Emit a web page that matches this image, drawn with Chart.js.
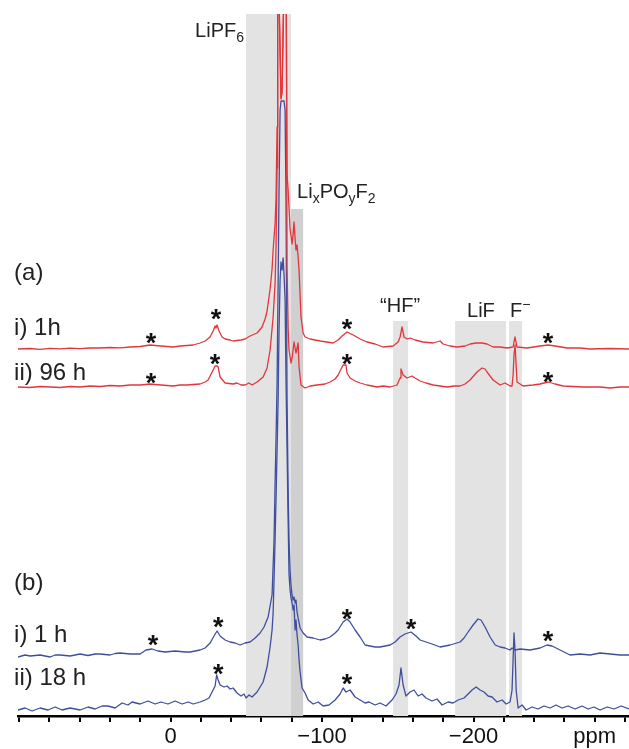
<!DOCTYPE html>
<html>
<head>
<meta charset="utf-8">
<script src="https://cdn.jsdelivr.net/npm/chart.js@4.4.0/dist/chart.umd.min.js"></script>
<style>
  html, body { margin: 0; padding: 0; background: #fff; }
  #wrap { width: 629px; height: 749px; position: relative; }
</style>
</head>
<body>
<div id="wrap"><canvas id="nmr"></canvas></div>
<script>
// 19F spectra: [shift (ppm), intensity above the trace's own baseline]
const spec_a_1h = [
  [100.7,0],[92.7,0.5],[86.1,-0.3],[79.5,0.6],[72.9,0.2],[66.3,0.8],[59.7,0.4],[53.1,1],[46.5,1],[39.9,1.5],
  [33.3,1.2],[26.7,2],[20.1,2.5],[13.5,4],[10.2,3.5],[6.3,3],[2.3,2.5],[-1.7,2],[-6.3,3],[-10.9,3.5],
  [-14.9,4],[-19.5,6],[-22.8,8],[-26.1,12],[-28.1,18],[-29.4,23],[-30.0,21],[-30.7,24],[-32.0,18],[-34.0,12],
  [-36.0,10],[-39.3,9],[-41.3,8],[-46.5,9],[-49.2,10],[-52.5,13],[-57.1,16],[-60.4,22],[-62.4,30],[-63.7,38],
  [-65.7,60],[-67.0,80],[-67.7,99],[-69.0,126],[-69.6,150],[-70.3,222],[-70.7,340],[-71.2,420],[-71.8,335],[-72.9,250],
  [-73.6,260],[-74.5,335],[-75.4,420],[-76.4,335],[-76.9,175],[-77.6,159],[-78.9,120],[-80.2,105],[-80.9,115],[-81.5,127],
  [-82.2,110],[-82.8,99],[-83.5,104],[-84.2,92],[-84.8,79],[-86.1,32],[-87.5,16],[-88.8,12],[-92.1,10],[-98.7,8],
  [-107.3,6],[-110.6,9],[-113.2,13],[-116.5,17],[-120.5,14],[-125.1,10],[-129.7,7],[-135.0,5],[-140.3,2],[-146.9,3],
  [-150.2,7],[-151.5,12],[-152.8,22],[-154.1,12],[-156.1,10],[-158.1,11],[-161.4,9],[-166.7,7],[-173.3,6],[-177.9,8],
  [-179.9,5],[-184.5,3],[-189.1,2],[-194.4,3],[-197.7,5],[-201.7,6],[-205.6,6],[-208.9,5],[-212.9,2],[-217.5,2],
  [-222.1,1],[-226.1,2],[-226.7,7],[-227.4,12],[-228.1,6],[-228.7,2],[-235.3,1],[-243.9,3],[-249.2,4],[-253.8,3],
  [-261.7,1],[-270.3,1],[-276.9,0],[-290.1,0.5],[-302.6,0]
];
const spec_a_96h = [
  [100.7,1],[92.7,0.5],[86.1,1.5],[79.5,1],[72.9,0.5],[66.3,1.5],[59.7,1],[53.1,2],[46.5,1.5],[39.9,2.5],
  [33.3,2],[26.7,3],[20.1,3],[13.5,4],[10.2,3.5],[6.3,3],[2.3,2.5],[-1.7,2],[-6.3,3],[-10.9,3],
  [-14.9,3.5],[-19.5,4],[-22.8,6],[-24.8,8],[-26.1,12],[-28.1,18],[-29.4,22],[-30.7,22],[-31.4,21],[-32.7,11],
  [-36.0,5],[-41.3,4],[-43.9,5],[-46.5,3],[-49.2,3],[-51.8,5],[-53.8,3],[-57.1,6],[-61.1,11],[-63.7,20],
  [-65.7,38],[-67.7,71],[-69.0,105],[-69.6,140],[-70.3,220],[-70.7,380],[-71.2,460],[-71.8,375],[-72.9,290],[-73.6,295],
  [-74.5,375],[-75.4,460],[-76.4,380],[-76.9,120],[-77.6,60],[-78.2,38],[-79.5,25],[-80.2,30],[-80.9,38],[-81.5,46],
  [-82.2,40],[-82.8,35],[-83.5,40],[-84.2,45],[-84.8,21],[-86.1,3],[-88.8,0],[-92.1,2],[-96.7,3],[-102.0,4],
  [-105.3,6],[-108.6,9],[-110.6,13],[-113.2,21],[-113.9,23],[-115.8,23],[-116.5,15],[-118.5,10],[-121.8,7],[-125.1,5],
  [-129.7,3],[-136.3,1],[-140.3,2],[-144.9,1],[-149.5,3],[-151.5,10],[-152.1,19],[-152.8,16],[-153.5,13],[-156.1,10],
  [-159.4,12],[-161.4,10],[-164.7,7],[-168.6,5],[-173.3,3],[-177.9,2],[-182.5,1],[-187.1,2],[-191.1,2],[-194.4,4],
  [-197.7,8],[-202.3,16],[-205.6,20],[-207.6,19],[-208.9,16],[-210.9,12],[-212.9,8],[-217.5,3],[-220.8,5],[-224.1,2],
  [-225.4,2],[-226.1,13],[-226.7,33],[-227.4,43],[-228.1,23],[-228.7,6],[-232.7,2],[-239.3,3],[-243.9,4],[-249.2,6],
  [-253.8,4],[-259.1,2],[-272.3,1],[-283.5,1],[-290.1,0],[-296.7,1],[-302.6,1]
];
const spec_b_1h = [
  [100.7,-2],[96.0,0],[92.7,-1],[86.1,0],[79.5,-2],[76.2,0],[72.9,0],[66.3,-1],[59.7,1],[54.5,-0.5],
  [49.8,1],[46.5,1],[39.9,0],[36.6,1.5],[33.3,2],[26.7,1],[20.1,1],[16.2,5],[12.2,6],[8.3,4],
  [3.6,3],[-3.0,4],[-9.6,3],[-12.9,3],[-19.5,5],[-22.8,7],[-26.1,12],[-28.7,19],[-30.7,24],[-32.7,19],
  [-36.0,15],[-39.3,13],[-42.6,12],[-45.9,10],[-49.2,12],[-52.5,13],[-55.8,17],[-59.1,22],[-61.7,28],[-64.4,38],
  [-67.0,60],[-68.3,115],[-69.0,172],[-69.6,215],[-70.3,272],[-71.0,372],[-71.6,465],[-72.3,545],[-72.9,554],[-74.9,554],
  [-75.6,545],[-76.2,455],[-76.9,255],[-77.6,165],[-78.2,115],[-78.9,85],[-79.5,70],[-80.2,60],[-80.9,55],[-81.5,58],
  [-82.2,52],[-82.8,55],[-83.5,43],[-84.2,37],[-85.5,27],[-87.5,22],[-90.1,18],[-94.1,17],[-98.7,15],[-102.0,16],
  [-105.3,18],[-108.6,22],[-110.6,25],[-113.9,33],[-116.5,36],[-118.5,33],[-121.8,25],[-125.1,18],[-128.4,10],[-131.7,9],
  [-135.0,8],[-138.3,8],[-141.6,9],[-144.9,10],[-148.2,13],[-151.5,18],[-154.7,21],[-158.7,23],[-162.0,19],[-164.7,15],
  [-172.6,11],[-177.9,8],[-184.5,10],[-191.1,13],[-193.7,17],[-196.4,23],[-199.7,30],[-202.9,36],[-204.9,35],[-207.6,28],
  [-210.9,18],[-214.3,10],[-217.5,8],[-220.8,7],[-224.1,5],[-225.4,7],[-227.4,5],[-230.7,6],[-237.3,5],[-243.9,7],
  [-248.5,10],[-251.8,9],[-257.1,5],[-263.7,0],[-270.3,1],[-276.9,0],[-283.5,2],[-290.1,1],[-296.7,0],[-302.6,0]
];
const spec_b_18h = [
  [100.7,-1],[96.0,1],[91.4,-2],[86.1,1],[80.9,-1],[76.2,2],[71.6,-1],[66.3,1],[59.7,-1],[54.5,2],
  [49.8,0],[45.2,3],[41.3,3],[36.6,1],[32.0,6],[28.1,4],[25.4,7],[20.1,5],[14.9,8],[10.2,5],
  [6.3,7],[1.7,5],[-3.0,8],[-7.6,5],[-11.6,7],[-14.9,5],[-19.5,7],[-22.8,9],[-25.4,11],[-27.4,17],
  [-29.4,23],[-30.4,34],[-31.4,29],[-32.7,24],[-35.3,22],[-37.3,23],[-39.3,20],[-41.3,21],[-43.9,16],[-46.5,13],
  [-48.5,15],[-49.8,11],[-51.8,14],[-53.8,12],[-57.1,17],[-59.1,22],[-61.1,27],[-63.7,42],[-65.7,62],[-67.0,79],
  [-67.7,96],[-68.3,129],[-69.0,169],[-69.6,209],[-70.3,259],[-71.0,309],[-71.6,379],[-72.3,429],[-72.9,447],[-73.6,439],
  [-74.3,451],[-74.9,434],[-75.6,409],[-76.2,329],[-76.9,259],[-77.6,189],[-78.2,134],[-78.9,119],[-79.5,111],[-80.2,106],
  [-80.9,99],[-81.5,104],[-82.2,79],[-82.8,89],[-83.5,74],[-84.2,64],[-84.8,49],[-85.5,37],[-86.8,21],[-88.8,16],
  [-90.8,9],[-94.1,5],[-97.4,7],[-100.7,3],[-104.6,4],[-108.6,9],[-111.9,15],[-113.9,21],[-115.8,17],[-118.5,19],
  [-121.8,12],[-125.1,9],[-128.4,6],[-131.0,7],[-135.0,4],[-138.3,6],[-142.2,3],[-146.2,9],[-148.8,15],[-150.8,24],
  [-152.1,41],[-153.5,24],[-155.4,13],[-158.1,17],[-160.7,19],[-163.4,13],[-166.0,15],[-168.6,11],[-172.6,8],[-175.9,10],
  [-179.2,4],[-183.2,7],[-186.5,6],[-189.8,9],[-193.7,11],[-196.4,15],[-199.0,19],[-201.7,22],[-204.3,19],[-206.9,17],
  [-209.6,13],[-212.2,12],[-215.5,7],[-218.8,9],[-221.5,5],[-224.1,7],[-225.4,19],[-226.1,49],[-226.7,76],[-227.4,59],
  [-228.1,19],[-229.4,1],[-232.0,4],[-234.7,-1],[-238.6,2],[-242.6,0],[-246.5,3],[-250.5,1],[-254.4,4],[-258.4,1],
  [-262.4,3],[-267.0,0],[-271.6,3],[-275.6,0],[-279.5,2],[-283.5,-1],[-288.2,2],[-292.8,0],[-297.4,3],[-302.6,0]
];
// vertical stacking offsets of the four traces (same units)
const traceOffsets = [367, 328, 61, 7];

// shaded assignment regions (ppm from, ppm to, top)
const bandFrom = [-49.8, -79.5, -146.9, -187.8, -223.4];
const bandTo   = [-79.5, -87.5, -156.8, -221.5, -232.0];
const bandTop  = [702, 507, 395, 395, 395];

// spinning sideband markers [ppm, height]
const sidebands = [
  [12.9,379],[-30.0,403],[-116.5,393],[-249.2,379],
  [12.9,339],[-29.4,358],[-116.5,358],[-249.2,340],
  [11.6,77],[-31.4,95],[-116.5,103],[-158.7,93],[-249.2,81],
  [-31.4,48],[-116.5,38]
];

const tickText = { '0': '0', '-100': '\u2212100', '-200': '\u2212200', '-280': 'ppm' };

const FONT = "'Liberation Sans', Arial, Helvetica, sans-serif";
const RED = '#e2363c';
const BLUE = '#3f4e9e';

function shifted(points, off) {
  return points.map(p => ({ x: p[0], y: p[1] + off }));
}

function drawParts(ctx, parts, x, y) {
  let cx = x;
  parts.forEach(p => {
    ctx.font = p[1] + 'px ' + FONT;
    ctx.fillText(p[0], cx, y + (p[2] || 0));
    cx += ctx.measureText(p[0]).width;
  });
}

const bandPlugin = {
  id: 'bands',
  beforeDatasetsDraw(chart) {
    const { ctx, scales: { x, y } } = chart;
    ctx.save();
    bandFrom.forEach((f, i) => {
      const x0 = x.getPixelForValue(f), x1 = x.getPixelForValue(bandTo[i]);
      const yt = y.getPixelForValue(bandTop[i]), yb = y.getPixelForValue(0);
      ctx.fillStyle = i === 1 ? '#d0d0d0' : '#e3e3e3';
      ctx.fillRect(x0, yt, x1 - x0, yb - yt);
    });
    ctx.restore();
  }
};

const labelPlugin = {
  id: 'labels',
  afterDatasetsDraw(chart) {
    const { ctx, scales: { x, y } } = chart;
    ctx.save();
    ctx.fillStyle = '#222';
    ctx.textBaseline = 'alphabetic';
    ctx.textAlign = 'left';
    const notes = [
      [[['(a)', 24]], 103.3, 436],
      [[['i) 1h', 24]], 103.3, 381],
      [[['ii) 96 h', 24]], 103.3, 336],
      [[['(b)', 24]], 103.3, 126],
      [[['i) 1 h', 24]], 103.3, 74],
      [[['ii) 18 h', 24]], 103.3, 31],
      [[['LiPF', 20], ['6', 14, 5]], -16.2, 679],
      [[['Li', 20], ['x', 14, 5], ['PO', 20], ['y', 14, 5], ['F', 20], ['2', 14, 5]], -83.5, 518],
      [[['\u201cHF\u201d', 20]], -138.3, 404],
      [[['LiF', 20]], -195.7, 399],
      [[['F', 20], ['\u2212', 14, -8]], -224.1, 399]
    ];
    notes.forEach(n => drawParts(ctx, n[0], x.getPixelForValue(n[1]), y.getPixelForValue(n[2])));

    ctx.fillStyle = '#111';
    ctx.textAlign = 'center';
    ctx.font = 'bold 27px ' + FONT;
    sidebands.forEach(s => {
      ctx.fillText('*', x.getPixelForValue(s[0]), y.getPixelForValue(s[1]) + 15);
    });
    ctx.restore();
  }
};

const lineStyle = { pointRadius: 0, borderWidth: 1.3, tension: 0, fill: false, borderJoinStyle: 'round' };

new Chart(document.getElementById('nmr').getContext('2d'), {
  type: 'line',
  data: {
    datasets: [
      Object.assign({ label: '(a) i) 1h', data: shifted(spec_a_1h, traceOffsets[0]), borderColor: RED }, lineStyle),
      Object.assign({ label: '(a) ii) 96 h', data: shifted(spec_a_96h, traceOffsets[1]), borderColor: RED }, lineStyle),
      Object.assign({ label: '(b) i) 1 h', data: shifted(spec_b_1h, traceOffsets[2]), borderColor: BLUE }, lineStyle),
      Object.assign({ label: '(b) ii) 18 h', data: shifted(spec_b_18h, traceOffsets[3]), borderColor: BLUE }, lineStyle)
    ]
  },
  options: {
    responsive: true,
    maintainAspectRatio: false,
    animation: false,
    layout: { padding: { left: 18, right: 0, top: 14, bottom: 0 } },
    plugins: { legend: { display: false }, tooltip: { enabled: false } },
    scales: {
      x: {
        type: 'linear',
        reverse: true,
        min: -302.6,
        max: 100.7,
        afterFit: axis => { axis.height = 33; },
        border: { display: true, color: '#000', width: 2.5 },
        grid: { drawOnChartArea: false, drawTicks: true, tickLength: 6, color: '#000', lineWidth: 2 },
        ticks: {
          stepSize: 20,
          includeBounds: false,
          autoSkip: false,
          maxRotation: 0,
          padding: 2,
          color: '#111',
          font: { family: FONT, size: 22 },
          callback: v => tickText[String(v)] || ''
        }
      },
      y: { display: false, min: 0, max: 702 }
    }
  },
  plugins: [bandPlugin, labelPlugin]
});
</script>
</body>
</html>
